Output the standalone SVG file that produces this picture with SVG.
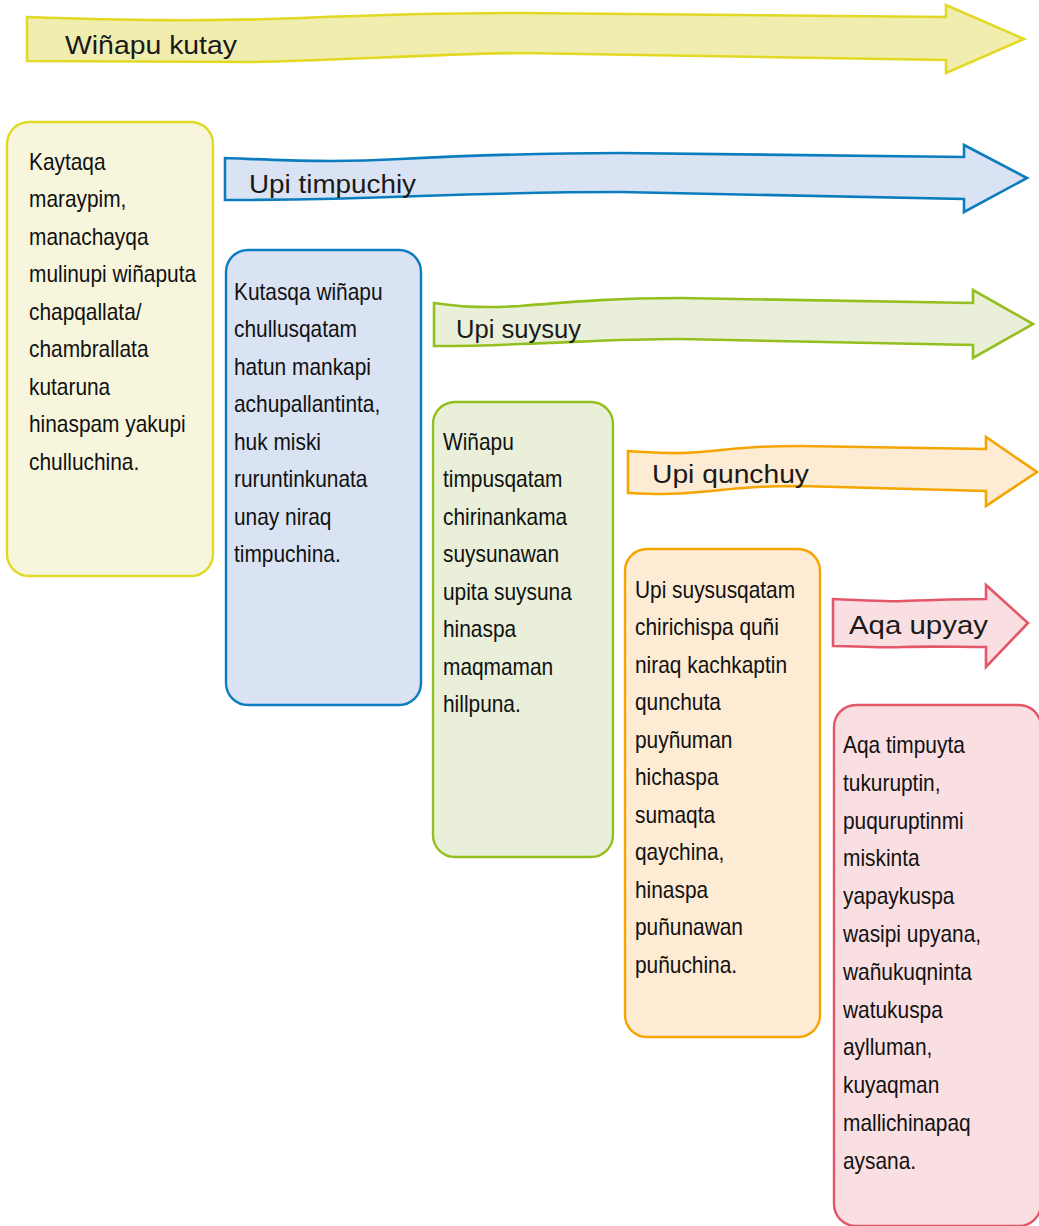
<svg xmlns="http://www.w3.org/2000/svg" width="1039" height="1226" viewBox="0 0 1039 1226">
<style>
.lbl{font-family:"Liberation Sans",Arial,sans-serif;font-size:26px;fill:#1a1a1a}
.body{font-family:"Liberation Sans",Arial,sans-serif;font-size:24px;fill:#111}
.arr{stroke-width:2.6;stroke-linejoin:miter}
.box{stroke-width:2.4}
</style>
<rect width="1039" height="1226" fill="#ffffff"/>
<g id="connectors">
<g id="arrow-kutay">
<path class="arr" d="M27,17 C120,20 200,22 300,18 C400,14 460,13 520,13 L946,17 L946,5 L1024,39 L946,73 L946,60 L520,53 C430,54 330,61 250,62 C160,62 80,61 27,61 Z" fill="#f0edaf" stroke="#e1d924"/>
<text class="lbl" x="65" y="54" textLength="172" lengthAdjust="spacingAndGlyphs">Wiñapu kutay</text>
</g>
<g id="arrow-timpuchiy">
<path class="arr" d="M225,158 C280,160 330,163 400,159 C480,155 560,153 620,153 L964,157 L964,145 L1027,178 L964,212 L964,199 L620,192 C540,192 480,194 420,196 C340,199 280,200 225,200 Z" fill="#dae3f3" stroke="#0b7dbf"/>
<text class="lbl" x="249" y="193" textLength="167" lengthAdjust="spacingAndGlyphs">Upi timpuchiy</text>
</g>
<g id="arrow-suysuy">
<path class="arr" d="M434,303 C450,305 470,309 520,306 C580,301 620,298 680,298 L973,303 L973,290 L1033,324 L973,358 L973,345 L680,339 C620,339 580,342 520,344 C480,346 450,346 434,346 Z" fill="#e9efd8" stroke="#93c01f"/>
<text class="lbl" x="456" y="338" textLength="125" lengthAdjust="spacingAndGlyphs">Upi suysuy</text>
</g>
<g id="arrow-qunchuy">
<path class="arr" d="M628,451 C650,452 670,455 700,452 C740,448 760,446 800,446 L986,449 L986,437 L1037,472 L986,506 L986,491 L800,486 C760,486 740,488 700,492 C670,495 650,494 628,493 Z" fill="#fdebd4" stroke="#f5a500"/>
<text class="lbl" x="652" y="483" textLength="157" lengthAdjust="spacingAndGlyphs">Upi qunchuy</text>
</g>
<g id="arrow-upyay">
<path class="arr" d="M833,599 C860,600 880,602 903,601 C930,600 960,599 986,599 L986,585 L1028,623 L986,667 L986,647 C960,647 930,646 903,647 C880,648 860,646 833,646 Z" fill="#f9dfe2" stroke="#e4566a"/>
<text class="lbl" x="849" y="634" textLength="139" lengthAdjust="spacingAndGlyphs">Aqa upyay</text>
</g>
</g>
<g id="node-kutay">
<rect class="box" x="7" y="122" width="206" height="454" rx="22" fill="#f7f6dd" stroke="#e1d924"/>
<text class="body" transform="translate(29,170) scale(0.87,1)"><tspan x="0" dy="0">Kaytaqa</tspan><tspan x="0" dy="37.5">maraypim,</tspan><tspan x="0" dy="37.5">manachayqa</tspan><tspan x="0" dy="37.5">mulinupi wiñaputa</tspan><tspan x="0" dy="37.5">chapqallata/</tspan><tspan x="0" dy="37.5">chambrallata</tspan><tspan x="0" dy="37.5">kutaruna</tspan><tspan x="0" dy="37.5">hinaspam yakupi</tspan><tspan x="0" dy="37.5">chulluchina.</tspan></text>
</g>
<g id="node-timpuchiy">
<rect class="box" x="226" y="250" width="195" height="455" rx="22" fill="#dae3f3" stroke="#0b7dbf"/>
<text class="body" transform="translate(234,300) scale(0.87,1)"><tspan x="0" dy="0">Kutasqa wiñapu</tspan><tspan x="0" dy="37.5">chullusqatam</tspan><tspan x="0" dy="37.5">hatun mankapi</tspan><tspan x="0" dy="37.5">achupallantinta,</tspan><tspan x="0" dy="37.5">huk miski</tspan><tspan x="0" dy="37.5">ruruntinkunata</tspan><tspan x="0" dy="37.5">unay niraq</tspan><tspan x="0" dy="37.5">timpuchina.</tspan></text>
</g>
<g id="node-suysuy">
<rect class="box" x="433" y="402" width="180" height="455" rx="22" fill="#e9efd8" stroke="#93c01f"/>
<text class="body" transform="translate(443,450) scale(0.87,1)"><tspan x="0" dy="0">Wiñapu</tspan><tspan x="0" dy="37.5">timpusqatam</tspan><tspan x="0" dy="37.5">chirinankama</tspan><tspan x="0" dy="37.5">suysunawan</tspan><tspan x="0" dy="37.5">upita suysuna</tspan><tspan x="0" dy="37.5">hinaspa</tspan><tspan x="0" dy="37.5">maqmaman</tspan><tspan x="0" dy="37.5">hillpuna.</tspan></text>
</g>
<g id="node-qunchuy">
<rect class="box" x="625" y="549" width="195" height="488" rx="22" fill="#fdebd4" stroke="#f5a500"/>
<text class="body" transform="translate(635,598) scale(0.87,1)"><tspan x="0" dy="0">Upi suysusqatam</tspan><tspan x="0" dy="37.5">chirichispa quñi</tspan><tspan x="0" dy="37.5">niraq kachkaptin</tspan><tspan x="0" dy="37.5">qunchuta</tspan><tspan x="0" dy="37.5">puyñuman</tspan><tspan x="0" dy="37.5">hichaspa</tspan><tspan x="0" dy="37.5">sumaqta</tspan><tspan x="0" dy="37.5">qaychina,</tspan><tspan x="0" dy="37.5">hinaspa</tspan><tspan x="0" dy="37.5">puñunawan</tspan><tspan x="0" dy="37.5">puñuchina.</tspan></text>
</g>
<g id="node-upyay">
<rect class="box" x="834" y="705" width="207" height="521" rx="22" fill="#f9dfe2" stroke="#e4566a"/>
<text class="body" transform="translate(843,753) scale(0.87,1)"><tspan x="0" dy="0">Aqa timpuyta</tspan><tspan x="0" dy="37.8">tukuruptin,</tspan><tspan x="0" dy="37.8">puquruptinmi</tspan><tspan x="0" dy="37.8">miskinta</tspan><tspan x="0" dy="37.8">yapaykuspa</tspan><tspan x="0" dy="37.8">wasipi upyana,</tspan><tspan x="0" dy="37.8">wañukuqninta</tspan><tspan x="0" dy="37.8">watukuspa</tspan><tspan x="0" dy="37.8">aylluman,</tspan><tspan x="0" dy="37.8">kuyaqman</tspan><tspan x="0" dy="37.8">mallichinapaq</tspan><tspan x="0" dy="37.8">aysana.</tspan></text>
</g>
</svg>
